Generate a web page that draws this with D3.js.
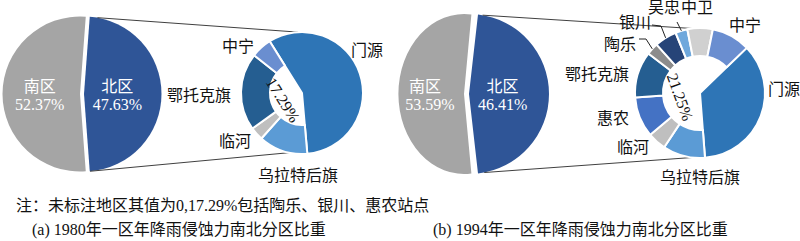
<!DOCTYPE html>
<html><head><meta charset="utf-8">
<script src="https://cdn.jsdelivr.net/npm/d3@7"></script>
<style>body{margin:0;background:#fff}svg{display:block}</style>
</head><body>
<svg id="c" width="800" height="241"></svg>
<script>
// ---------- data ----------
const mainCategories = ["南区", "北区"];
const mainValuesA = [52.37, 47.63];
const mainValuesB = [53.59, 46.41];
const mainLabelsA = ["52.37%", "47.63%"];
const mainLabelsB = ["53.59%", "46.41%"];

const subCategoriesA = ["门源", "乌拉特后旗", "临河", "鄂托克旗", "中宁"];
const subValuesA = [57.5, 13, 3.5, 20.5, 5.5];
const subCategoriesB = ["门源", "乌拉特后旗", "临河", "惠农", "鄂托克旗", "陶乐", "银川", "吴忠", "中卫", "中宁"];
const subValuesB = [36, 10.5, 4.6, 10, 11.5, 3, 5.5, 3, 6.3, 9.6];
const holeLabels = ["17.29%", "21.25%"];

const noteText = "注：未标注地区其值为0,17.29%包括陶乐、银川、惠农站点";
const captions = ["(a) 1980年一区年降雨侵蚀力南北分区比重", "(b) 1994年一区年降雨侵蚀力南北分区比重"];

// ---------- styles ----------
const FONT = "'Liberation Serif','Noto Sans CJK SC',serif";
const mainColor = d3.scaleOrdinal().domain(mainCategories).range(["#a5a5a5", "#2f5597"]);
const subColor = d3.scaleOrdinal()
  .domain(["门源", "乌拉特后旗", "临河", "惠农", "鄂托克旗", "陶乐", "银川", "吴忠", "中卫", "中宁"])
  .range(["#2e75b6", "#5b9bd5", "#bfbfbf", "#4472c4", "#255e91", "#8c8c8c", "#264478", "#6fa8dc", "#d0d0d0", "#6a8ed0"]);

const svg = d3.select("#c");
const rad = d => d * Math.PI / 180;
const pt = (cx, cy, r, a) => [cx + r * Math.sin(a), cy - r * Math.cos(a)];

const panels = [
  { main: mainValuesA, mainLbl: mainLabelsA, r: 77.5, cy: 94, vx: [80, 84], sx: [1, 1], lk: [0.52, 0.43], lblDx: [0, 0],
    sub: subValuesA, subCat: subCategoriesA, dcx: 302, dcy: 93, ro: 61, ri: 32, start: -32,
    hole: holeLabels[0], holePos: [283, 100], holeRot: 58,
    conn: [[10, -3.7], [175.5, 192]],
    labels: { "门源": [367, 50], "中宁": [238, 46], "鄂托克旗": [199, 95], "临河": [235, 141], "乌拉特后旗": [298, 175] },
    leaders: {} },
  { main: mainValuesB, mainLbl: mainLabelsB, r: 80, cy: 94, vx: [464, 469], sx: [0.82, 1], lk: [0.55, 0.42], lblDx: [-3, 0],
    sub: subValuesB, subCat: subCategoriesB, dcx: 700, dcy: 93, ro: 65, ri: 37, start: 46,
    hole: holeLabels[1], holePos: [680, 97], holeRot: 70,
    conn: [[9.8, -7], [169, 187]],
    labels: { "中宁": [745, 25], "门源": [784, 89], "中卫": [697, 7], "吴忠": [664, 7], "银川": [635, 22], "陶乐": [620, 44],
              "鄂托克旗": [597, 74], "惠农": [613, 118], "临河": [633, 147], "乌拉特后旗": [700, 177] },
    leaders: { "吴忠": [[677, 22]], "银川": [[652, 25], [661, 26]], "陶乐": [[639, 39], [646, 39]] } }
];

panels.forEach(p => {
  // ---- main pie (南区 / 北区) ----
  const fN = p.main[1] / d3.sum(p.main);
  const startDeg = 90 + 180 * fN;
  const pie = d3.pie().sort(null).startAngle(rad(startDeg)).endAngle(rad(startDeg + 360));
  const arcs = pie(p.main);
  const arc = d3.arc().innerRadius(0).outerRadius(p.r);
  const g = svg.append("g");
  arcs.forEach((a, i) => {
    const gg = g.append("g").attr("transform", `translate(${p.vx[i]},${p.cy}) scale(${p.sx[i]},1)`);
    gg.append("path").attr("d", arc(a)).attr("fill", mainColor(mainCategories[i]));
  });
  arcs.forEach((a, i) => {
    const mid = (a.startAngle + a.endAngle) / 2;
    const [x, y] = pt(p.vx[i], p.cy, p.r * p.lk[i] * p.sx[i], mid);
    const t = g.append("text").attr("x", x + p.lblDx[i]).attr("y", y).attr("text-anchor", "middle")
      .attr("font-family", FONT).attr("font-size", 16).attr("fill", "#fff");
    t.append("tspan").attr("x", x + p.lblDx[i]).attr("dy", "-0.15em").text(mainCategories[i]);
    t.append("tspan").attr("x", x + p.lblDx[i] + (i === 0 ? 5 * p.lblDx[i] / -3 : 0)).attr("dy", "1.15em").text(p.mainLbl[i]);
  });

  // ---- connector lines ----
  p.conn.forEach(([aMain, aSub]) => {
    const [x1, y1] = pt(p.vx[1], p.cy, p.r, rad(aMain));
    const [x2, y2] = pt(p.dcx, p.dcy, p.ro, rad(aSub));
    svg.append("line").attr("x1", x1).attr("y1", y1).attr("x2", x2).attr("y2", y2)
      .attr("stroke", "#404040").attr("stroke-width", 1);
  });

  // ---- sub doughnut ----
  const sPie = d3.pie().sort(null).startAngle(rad(p.start)).endAngle(rad(p.start + 360));
  const sArcs = sPie(p.sub);
  const dg = svg.append("g").attr("transform", `translate(${p.dcx},${p.dcy})`);
  sArcs.forEach((a, i) => {
    const name = p.subCat[i];
    const ri = name === "门源" ? 0 : p.ri;
    const ar = d3.arc().innerRadius(ri).outerRadius(p.ro);
    dg.append("path").attr("d", ar(a)).attr("fill", subColor(name))
      .attr("stroke", "#fff").attr("stroke-width", 2).attr("stroke-linejoin", "round");
  });

  // hole label
  svg.append("text").attr("transform", `translate(${p.holePos[0]},${p.holePos[1]}) rotate(${p.holeRot})`)
    .attr("text-anchor", "middle").attr("dominant-baseline", "central")
    .attr("font-family", FONT).attr("font-size", 16).attr("fill", "#111").text(p.hole);

  // labels and leaders
  sArcs.forEach((a, i) => {
    const name = p.subCat[i];
    const pos = p.labels[name];
    if (!pos) return;
    svg.append("text").attr("x", pos[0]).attr("y", pos[1]).attr("text-anchor", "middle")
      .attr("dominant-baseline", "central").attr("font-family", FONT).attr("font-size", 16)
      .attr("fill", "#111").text(name);
    if (p.leaders[name]) {
      const mid = (a.startAngle + a.endAngle) / 2;
      const end = pt(p.dcx, p.dcy, p.ro, mid);
      const ptsL = p.leaders[name].concat([end]);
      svg.append("path").attr("d", d3.line()(ptsL)).attr("fill", "none")
        .attr("stroke", "#222").attr("stroke-width", 1);
    }
  });
});

// note + captions
svg.append("text").attr("x", 16).attr("y", 205).attr("dominant-baseline", "central")
  .attr("font-family", FONT).attr("font-size", 16).attr("fill", "#111").text(noteText);
svg.append("text").attr("x", 32).attr("y", 229).attr("dominant-baseline", "central")
  .attr("font-family", FONT).attr("font-size", 16).attr("fill", "#111").text(captions[0]);
svg.append("text").attr("x", 433).attr("y", 229).attr("dominant-baseline", "central")
  .attr("font-family", FONT).attr("font-size", 16).attr("fill", "#111").text(captions[1]);
</script>
</body></html>
